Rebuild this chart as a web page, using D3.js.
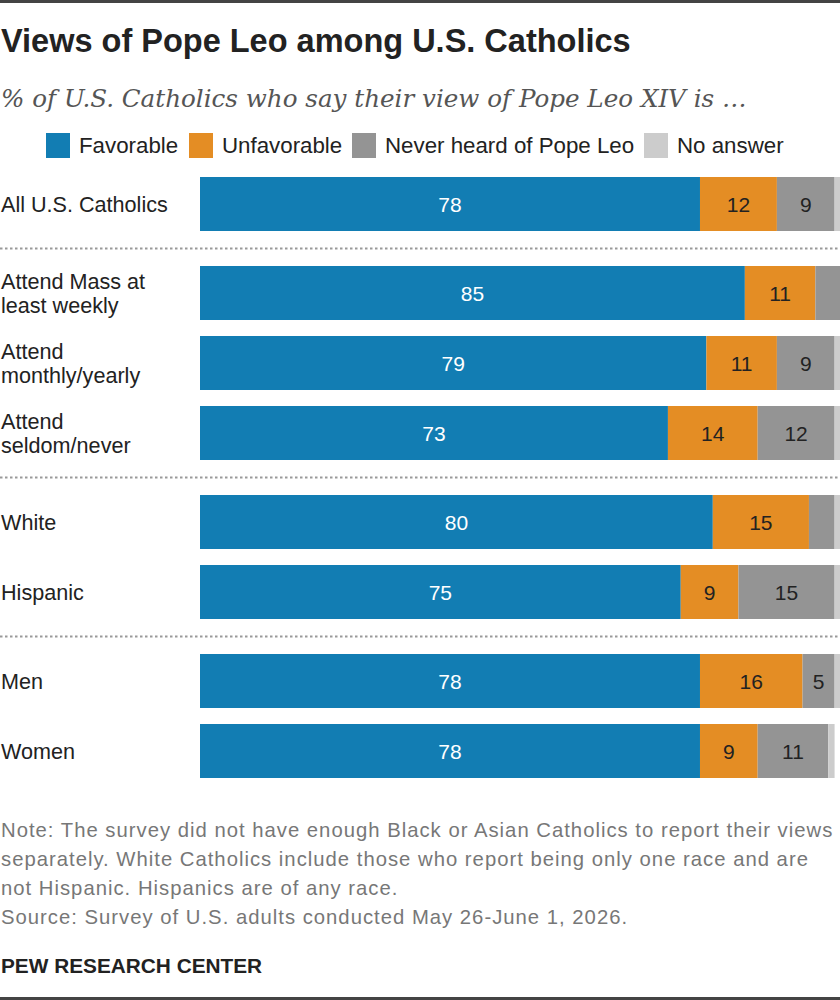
<!DOCTYPE html>
<html>
<head>
<meta charset="utf-8">
<script src="https://cdn.jsdelivr.net/npm/d3@7"></script>
<style>
  body { margin: 0; background: #fff; }
  svg { display: block; }
</style>
</head>
<body>
<div id="chart"></div>
<script>
const width = 840;
const height = 1000;

const categories = ["Favorable", "Unfavorable", "Never heard of Pope Leo", "No answer"];
const groups = ["All U.S. Catholics", "Attend Mass at least weekly", "Attend monthly/yearly",
    "Attend seldom/never", "White", "Hispanic", "Men", "Women"];
const groupLines = [["All U.S. Catholics"], ["Attend Mass at", "least weekly"], ["Attend", "monthly/yearly"],
    ["Attend", "seldom/never"], ["White"], ["Hispanic"], ["Men"], ["Women"]];
const section = [0, 1, 1, 1, 2, 2, 3, 3];

const favorable = [78, 85, 79, 73, 80, 75, 78, 78];
const unfavorable = [12, 11, 11, 14, 15, 9, 16, 9];
const neverHeard = [9, 4, 9, 12, 4, 15, 5, 11];
const noAnswer = [1, 0, 1, 1, 1, 1, 1, 1];

const colors = ["#127db3", "#e48d24", "#949494", "#cccccc"];
const textColors = ["#ffffff", "#222222", "#222222", "#222222"];

const sansFont = "Liberation Sans, Arial, sans-serif";

const wideData = groups.map((g, i) => ({
    group: g,
    "Favorable": favorable[i],
    "Unfavorable": unfavorable[i],
    "Never heard of Pope Leo": neverHeard[i],
    "No answer": noAnswer[i]
}));

const series = d3.stack().keys(categories)(wideData);

const svg = d3.select("#chart").append("svg")
    .attr("width", width)
    .attr("height", height)
    .attr("viewBox", [0, 0, width, height]);

svg.append("rect").attr("x", 0).attr("y", 0).attr("width", width).attr("height", 3).attr("fill", "#444");
svg.append("rect").attr("x", 0).attr("y", height - 3).attr("width", width).attr("height", 3).attr("fill", "#444");

svg.append("text")
    .attr("x", 1).attr("y", 52)
    .attr("font-family", sansFont)
    .attr("font-weight", "bold")
    .attr("font-size", 32.5)
    .attr("fill", "#222")
    .text("Views of Pope Leo among U.S. Catholics");

svg.append("text")
    .attr("x", 1).attr("y", 107)
    .attr("font-family", "DejaVu Serif, Georgia, serif")
    .attr("font-style", "italic")
    .attr("font-size", 24.6)
    .attr("fill", "#555")
    .text("% of U.S. Catholics who say their view of Pope Leo XIV is …");

// legend
const legendX = [46, 189, 352, 644];
const legend = svg.append("g").attr("transform", "translate(0, 133)");
categories.forEach((c, i) => {
    legend.append("rect")
        .attr("x", legendX[i]).attr("y", 0)
        .attr("width", 24).attr("height", 25)
        .attr("fill", colors[i]);
    legend.append("text")
        .attr("x", legendX[i] + 33).attr("y", 20)
        .attr("font-family", sansFont)
        .attr("font-size", 22.3)
        .attr("fill", "#222")
        .text(c);
});

// scales
const xScale = d3.scaleLinear().domain([0, 100]).range([200, 841]);

const sectionGap = 19;
const yBand = d3.scaleBand()
    .domain(groups)
    .range([169, 169 + groups.length * 70])
    .paddingInner(16 / 70)
    .paddingOuter(8 / 70);
const yPos = g => yBand(g) + section[groups.indexOf(g)] * sectionGap;
const barH = yBand.bandwidth();

const chart = svg.append("g");

chart.selectAll(".layer")
    .data(series)
    .join("g")
        .attr("class", "layer")
        .attr("fill", (d, i) => colors[i])
    .selectAll("rect")
    .data(d => d)
    .join("rect")
        .attr("x", d => xScale(d[0]))
        .attr("y", d => yPos(d.data.group))
        .attr("width", d => xScale(d[1]) - xScale(d[0]))
        .attr("height", barH);

chart.selectAll(".vlabels")
    .data(series.slice(0, 3))
    .join("g")
        .attr("class", "vlabels")
        .attr("fill", (d, i) => textColors[i])
    .selectAll("text")
    .data(d => d.filter(s => s[1] - s[0] >= 5))
    .join("text")
        .attr("x", d => (xScale(d[0]) + xScale(d[1])) / 2)
        .attr("y", d => yPos(d.data.group) + barH / 2 + 8)
        .attr("text-anchor", "middle")
        .attr("font-family", sansFont)
        .attr("font-size", 21)
        .text(d => d[1] - d[0]);

// row labels
groups.forEach((g, i) => {
    const lines = groupLines[i];
    const cy = yPos(g) + barH / 2;
    const t = svg.append("text")
        .attr("font-family", sansFont)
        .attr("font-size", 21.6)
        .attr("fill", "#222");
    lines.forEach((l, j) => {
        t.append("tspan")
            .attr("x", 1)
            .attr("y", cy + 8 + (j - (lines.length - 1) / 2) * 24)
            .text(l);
    });
});

// dotted separators
const dividerRows = [1, 4, 6];
dividerRows.forEach(r => {
    const yPrev = yPos(groups[r - 1]) + barH;
    const yNext = yPos(groups[r]);
    const y = Math.round((yPrev + yNext) / 2) - 0.5;
    svg.append("line")
        .attr("x1", 0).attr("x2", width)
        .attr("y1", y).attr("y2", y)
        .attr("stroke", "#999")
        .attr("stroke-width", 2)
        .attr("stroke-dasharray", "2.5,2.5");
});

// notes
const notes = [
    "Note: The survey did not have enough Black or Asian Catholics to report their views",
    "separately. White Catholics include those who report being only one race and are",
    "not Hispanic. Hispanics are of any race.",
    "Source: Survey of U.S. adults conducted May 26-June 1, 2026."
];
svg.append("g").selectAll("text")
    .data(notes)
    .join("text")
        .attr("x", 1)
        .attr("y", (d, i) => 837 + i * 29)
        .attr("font-family", sansFont)
        .attr("font-size", 20.3)
        .attr("letter-spacing", 1)
        .attr("fill", "#777")
        .text(d => d);

svg.append("text")
    .attr("x", 1).attr("y", 973)
    .attr("font-family", sansFont)
    .attr("font-weight", "bold")
    .attr("font-size", 20.8)
    .attr("fill", "#222")
    .text("PEW RESEARCH CENTER");
</script>
</body>
</html>
